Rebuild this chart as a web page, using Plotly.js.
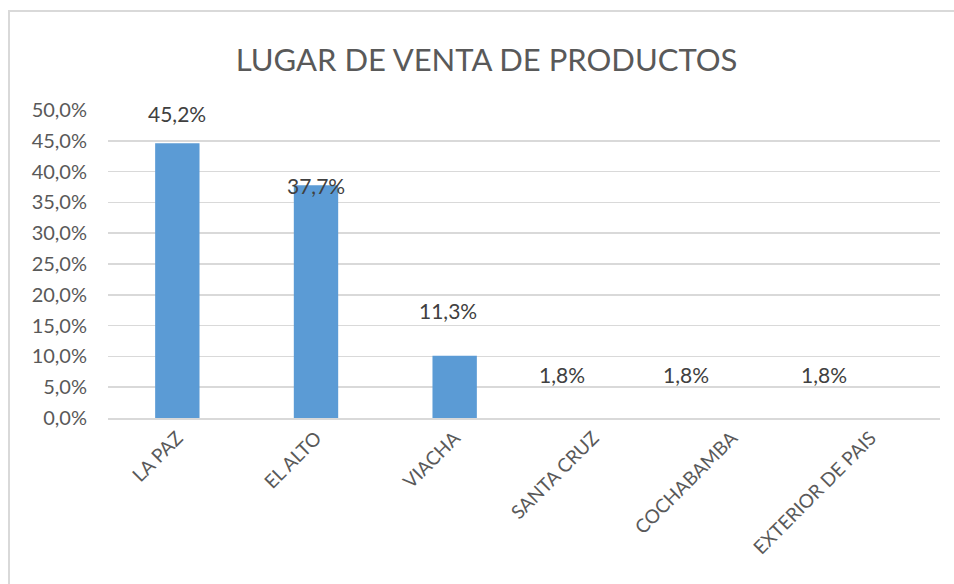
<!DOCTYPE html>
<html>
<head>
<meta charset="utf-8">
<script src="https://cdn.plot.ly/plotly-3.0.1.min.js"></script>
<style>
  html, body { margin: 0; padding: 0; background: #fff; }
  #wrap { position: relative; width: 954px; height: 584px; }
  #chart { width: 954px; height: 584px; }
  #frame { position: absolute; left: 8px; top: 10px; width: 946px; height: 574px;
           border-left: 2px solid #d9d9d9; border-top: 2px solid #d9d9d9; box-sizing: border-box; pointer-events: none; }
</style>
</head>
<body>
<div id="wrap">
  <div id="chart"></div>
  <div id="frame"></div>
</div>
<script>
// Categories and values
var categories = ["LA PAZ", "EL ALTO", "VIACHA", "SANTA CRUZ", "COCHABAMBA", "EXTERIOR DE PAIS"];
var barValues = [44.6, 37.8, 10.1, 0, 0, 0];          // visible bar heights (%)
var labelTexts = ["45,2%", "37,7%", "11,3%", "1,8%", "1,8%", "1,8%"];
var labelAnchors = [49.5, 37.8, 17.4, 7.1, 7.1, 7.1];  // label heights on the value axis (%)
var labelShift = [0, 0, -7, -31, -46, -47];             // horizontal label offsets (px)
var yTickVals = [0, 5, 10, 15, 20, 25, 30, 35, 40, 45, 50];
var yTickText = ["0,0%", "5,0%", "10,0%", "15,0%", "20,0%", "25,0%", "30,0%", "35,0%", "40,0%", "45,0%", "50,0%"];

var font = "Lato, 'Open Sans', sans-serif";

var annotations = categories.map(function (c, i) {
  return {
    x: c, y: labelAnchors[i], xref: "x", yref: "y",
    text: labelTexts[i], showarrow: false, xshift: labelShift[i],
    font: { family: font, size: 21, color: "#404040" }
  };
});

Plotly.newPlot("chart", [{
  type: "bar",
  x: categories,
  y: barValues,
  marker: { color: "#5b9bd5" },
  hoverinfo: "none"
}], {
  width: 954, height: 584,
  margin: { l: 108, r: 14, t: 110, b: 166 },
  paper_bgcolor: "#ffffff", plot_bgcolor: "#ffffff",
  bargap: 0.68,
  showlegend: false,
  title: { text: "LUGAR DE VENTA DE PRODUCTOS", x: 0.51, xanchor: "center", y: 0.897, yanchor: "middle",
           font: { family: font, size: 31, color: "#595959" } },
  xaxis: {
    type: "category",
    tickangle: -45,
    showgrid: false, zeroline: false,
    showline: true, linecolor: "#d9d9d9", linewidth: 1.5,
    ticks: "", tickfont: { family: font, size: 19, color: "#595959" }
  },
  yaxis: {
    range: [0, 50],
    tickvals: yTickVals, ticktext: yTickText,
    showgrid: true, gridcolor: "#d9d9d9", gridwidth: 1.5,
    zeroline: false, showline: false, ticks: "",
    ticklabelstandoff: 20,
    tickfont: { family: font, size: 20, color: "#595959" }
  },
  annotations: annotations
}, { displayModeBar: false, staticPlot: true });
</script>
</body>
</html>
